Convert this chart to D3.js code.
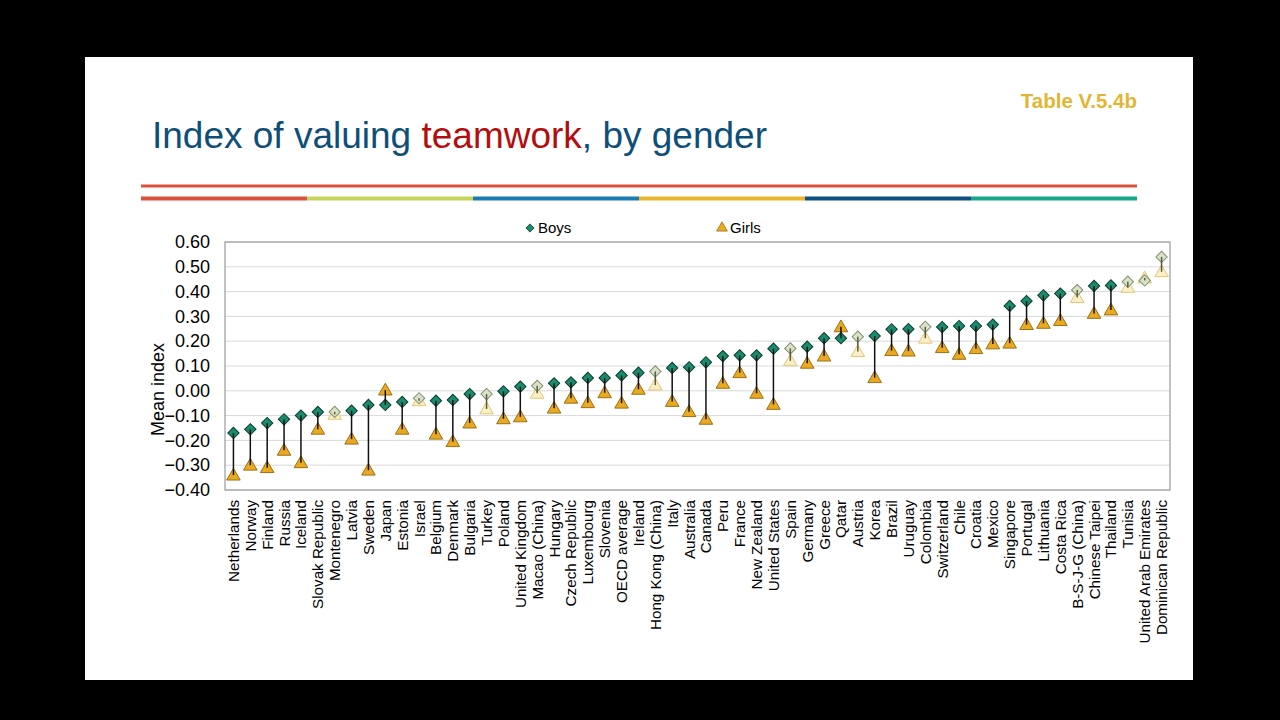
<!DOCTYPE html>
<html><head><meta charset="utf-8">
<script src="https://cdn.jsdelivr.net/npm/d3@7"></script>
<style>
html,body{margin:0;padding:0;background:#000;}
svg{display:block;}
text{font-family:"Liberation Sans",Arial,sans-serif;}
</style></head>
<body>
<svg id="chart" width="1280" height="720"></svg>
<script>
const countries = ["Netherlands","Norway","Finland","Russia","Iceland","Slovak Republic","Montenegro","Latvia","Sweden","Japan","Estonia","Israel","Belgium","Denmark","Bulgaria","Turkey","Poland","United Kingdom","Macao (China)","Hungary","Czech Republic","Luxembourg","Slovenia","OECD average","Ireland","Hong Kong (China)","Italy","Australia","Canada","Peru","France","New Zealand","United States","Spain","Germany","Greece","Qatar","Austria","Korea","Brazil","Uruguay","Colombia","Switzerland","Chile","Croatia","Mexico","Singapore","Portugal","Lithuania","Costa Rica","B-S-J-G (China)","Chinese Taipei","Thailand","Tunisia","United Arab Emirates","Dominican Republic"];
const boys = [-0.17,-0.155,-0.13,-0.115,-0.10,-0.085,-0.085,-0.08,-0.057,-0.057,-0.045,-0.03,-0.04,-0.037,-0.013,-0.013,-0.002,0.017,0.02,0.03,0.034,0.052,0.052,0.062,0.073,0.078,0.092,0.095,0.115,0.14,0.143,0.143,0.17,0.171,0.178,0.212,0.212,0.218,0.221,0.248,0.249,0.258,0.257,0.261,0.261,0.267,0.342,0.362,0.385,0.392,0.406,0.423,0.425,0.44,0.445,0.54];
const girls = [-0.34,-0.30,-0.31,-0.24,-0.29,-0.155,-0.095,-0.195,-0.32,0.003,-0.155,-0.04,-0.175,-0.205,-0.13,-0.073,-0.113,-0.105,-0.01,-0.07,-0.03,-0.048,-0.008,-0.05,0.006,0.023,-0.043,-0.084,-0.115,0.03,0.073,-0.01,-0.055,0.121,0.111,0.14,0.258,0.158,0.053,0.162,0.16,0.212,0.174,0.147,0.17,0.189,0.192,0.267,0.272,0.283,0.376,0.312,0.326,0.417,0.455,0.48];
const notSignificant = ["Montenegro","Israel","Turkey","Macao (China)","Hong Kong (China)","Spain","Austria","Colombia","B-S-J-G (China)","Tunisia","United Arab Emirates","Dominican Republic"];
const yTicks = [0.6,0.5,0.4,0.3,0.2,0.1,0,-0.1,-0.2,-0.3,-0.4];
const stripeColors = ["#d9533f","#c9d45c","#1b7bb3","#e9b62b","#0f4f82","#14a88b"];

const svg = d3.select("#chart");
// slide
svg.append("rect").attr("x",85).attr("y",57).attr("width",1108).attr("height",623).attr("fill","#fff");

// title
const title = svg.append("text").attr("x",152).attr("y",148).attr("font-size",37).attr("fill","#0e4f78");
title.append("tspan").text("Index of valuing ");
title.append("tspan").attr("fill","#b30d0d").text("teamwork");
title.append("tspan").text(", by gender");

svg.append("text").attr("x",1137).attr("y",108).attr("text-anchor","end").attr("font-size",20.5).attr("font-weight","bold").attr("fill","#e2b634").text("Table V.5.4b");

// stripes
svg.append("line").attr("x1",141).attr("x2",1137).attr("y1",186).attr("y2",186).attr("stroke","#d9533f").attr("stroke-width",3);
const sx = d3.scaleLinear().domain([0,stripeColors.length]).range([141,1137]);
svg.selectAll("line.stripe").data(stripeColors).join("line").attr("class","stripe")
  .attr("x1",(d,i)=>sx(i)).attr("x2",(d,i)=>sx(i+1)).attr("y1",198.5).attr("y2",198.5)
  .attr("stroke",d=>d).attr("stroke-width",4);

// scales
const pLeft=225,pRight=1170,pTop=242,pBottom=490;
const x = d3.scaleBand().domain(countries).range([pLeft,pRight]).paddingInner(0).paddingOuter(0);
const y = d3.scaleLinear().domain([-0.4,0.6]).range([pBottom,pTop]);

// grid
svg.append("g").selectAll("line").data(yTicks).join("line")
  .attr("x1",pLeft).attr("x2",pRight).attr("y1",d=>y(d)).attr("y2",d=>y(d))
  .attr("stroke","#d9d9d9").attr("stroke-width",1);
svg.append("rect").attr("x",pLeft).attr("y",pTop).attr("width",pRight-pLeft).attr("height",pBottom-pTop)
  .attr("fill","none").attr("stroke","#9a9a9a").attr("stroke-width",1.2);

// y axis
const yAxis = d3.axisLeft(y).tickValues(yTicks).tickFormat(d3.format(".2f")).tickSize(0).tickPadding(15);
const ya = svg.append("g").attr("transform",`translate(${pLeft},0)`).call(yAxis);
ya.select(".domain").remove();
ya.selectAll("text").attr("font-size",18).attr("fill","#000").attr("font-family","Liberation Sans, Arial, sans-serif");
svg.append("text").attr("transform",`translate(164,${y(0.005)}) rotate(-90)`).attr("text-anchor","middle")
  .attr("font-size",18).attr("fill","#000").text("Mean index");

// x axis
const xAxis = d3.axisBottom(x).tickSize(0).tickPadding(0);
const xa = svg.append("g").attr("transform",`translate(0,${pBottom})`).call(xAxis);
xa.select(".domain").remove();
xa.selectAll("text").attr("font-size",15.2).attr("fill","#000").attr("font-family","Liberation Sans, Arial, sans-serif")
  .attr("text-anchor","end").attr("dy",null).attr("y",0)
  .attr("transform","translate(5.5,10) rotate(-90)");

// legend
const diamond = d3.symbol().type(d3.symbolSquare).size(64);
const tri = d3.symbol().type(d3.symbolTriangle).size(80);
svg.append("path").attr("d",d3.symbol().type(d3.symbolSquare).size(34)()).attr("transform","translate(530,228) rotate(45)").attr("fill","#1a8c6e").attr("stroke","#0b3b2c").attr("stroke-width",0.8);
svg.append("text").attr("x",538).attr("y",233).attr("font-size",15).text("Boys");
svg.append("path").attr("d",d3.symbol().type(d3.symbolTriangle).size(50)()).attr("transform","translate(722,228)").attr("fill","#e9aa22").attr("stroke","#9c6f16").attr("stroke-width",0.8);
svg.append("text").attr("x",730).attr("y",233).attr("font-size",15).text("Girls");

const data = countries.map((c,i)=>({c, b:boys[i], g:girls[i], ns: notSignificant.includes(c)}));
const cx = d => x(d.c)+x.bandwidth()/2;

// girls
svg.append("g").selectAll("path").data(data).join("path")
  .attr("d",tri()).attr("transform",d=>`translate(${cx(d)},${y(d.g)+1})`)
  .attr("fill",d=>d.ns?"#fbefc6":"#e9aa22").attr("stroke",d=>d.ns?"#e3c57a":"#9c6f16").attr("stroke-width",1);
// boys
svg.append("g").selectAll("path").data(data).join("path")
  .attr("d",diamond()).attr("transform",d=>`translate(${cx(d)},${y(d.b)}) rotate(45)`)
  .attr("fill",d=>d.ns?"#d9e2c8":"#1a8c6e").attr("stroke",d=>d.ns?"#7f9070":"#0b3b2c").attr("stroke-width",1);
// stems
svg.append("g").selectAll("line").data(data).join("line")
  .attr("x1",cx).attr("x2",cx).attr("y1",d=>y(d.b)).attr("y2",d=>y(d.g))
  .attr("stroke",d=>d.ns?"#5a5a3a":"#111").attr("stroke-width",1.5);
</script>
</body></html>
